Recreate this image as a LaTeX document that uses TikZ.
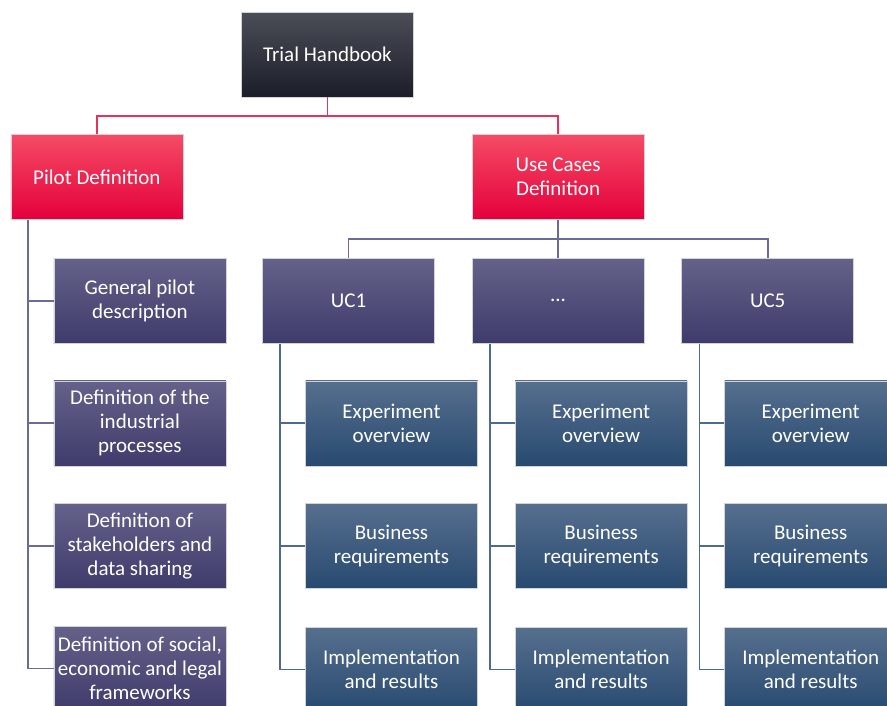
\documentclass[tikz,border=0pt]{standalone}
\usepackage{fontspec}
\setmainfont{Carlito}
\usetikzlibrary{positioning}

\definecolor{headtop}{HTML}{4B4D57}
\definecolor{headbot}{HTML}{1B1E29}
\definecolor{redtop}{HTML}{F54B65}
\definecolor{redbot}{HTML}{E4003B}
\definecolor{purtop}{HTML}{64628A}
\definecolor{purbot}{HTML}{3F3B6B}
\definecolor{blutop}{HTML}{566F8E}
\definecolor{blubot}{HTML}{284A70}
\definecolor{boxedge}{HTML}{D2D2DA}
\definecolor{redwire}{HTML}{E8325A}
\definecolor{purwire}{HTML}{6B6B99}
\definecolor{bluwire}{HTML}{4D6B91}

\tikzset{
  box/.style={rectangle, minimum width=172pt, minimum height=85pt, inner sep=2pt,
    align=center, text=white, draw=boxedge, line width=0.6pt,
    font=\fontsize{21}{24}\selectfont},
  headbox/.style={box, top color=headtop, bottom color=headbot},
  redbox/.style={box, top color=redtop, bottom color=redbot},
  purbox/.style={box, top color=purtop, bottom color=purbot},
  blubox/.style={box, top color=blutop, bottom color=blubot},
  redline/.style={draw=redwire, line width=1.8pt},
  purline/.style={draw=purwire, line width=1.8pt},
  bluline/.style={draw=bluwire, line width=1.8pt}
}

\begin{document}
\begin{tikzpicture}[x=1pt,y=-1pt,node distance=37pt]
    \clip (0,0) rectangle (887,705);

    \node[headbox] (hb) at (327.5,54.5) {Trial Handbook};
    \node[redbox] [below left=37pt and 58pt of hb] (pilot) {Pilot Definition};
    \node[redbox] [below right=37pt and 58pt of hb] (ucdef) {Use Cases\\Definition};

    % pilot column
    \node[purbox, anchor=north west] (gen) at ([xshift=43pt,yshift=-38pt]pilot.south west) {General pilot\\description};
    \node[purbox] [below=of gen] (proc) {Definition of the\\industrial\\processes};
    \node[purbox] [below=of proc] (stake) {Definition of\\stakeholders and\\data sharing};
    \node[purbox] [below=of stake] (frame) {Definition of social,\\economic and legal\\frameworks};

    % use cases
    \node[purbox] [below=38pt of ucdef] (dots) {...};
    \node[purbox] [left=of dots] (uc1) {UC1};
    \node[purbox] [right=of dots] (uc5) {UC5};

    \node[blubox, anchor=north west] (exp1) at ([xshift=43pt,yshift=-37pt]uc1.south west) {Experiment\\overview};
    \node[blubox] [below=of exp1] (req1) {Business\\requirements};
    \node[blubox] [below=38pt of req1] (imp1) {Implementation\\and results};

    \node[blubox, anchor=north west] (exp2) at ([xshift=43pt,yshift=-37pt]dots.south west) {Experiment\\overview};
    \node[blubox] [below=of exp2] (req2) {Business\\requirements};
    \node[blubox] [below=38pt of req2] (imp2) {Implementation\\and results};

    \node[blubox, anchor=north west] (exp3) at ([xshift=43pt,yshift=-37pt]uc5.south west) {Experiment\\overview};
    \node[blubox] [below=of exp3] (req3) {Business\\requirements};
    \node[blubox] [below=38pt of req3] (imp3) {Implementation\\and results};

    \path[redline]
    (hb.south) -- ++(0,18.5) -| (pilot.north)
    (hb.south) -- ++(0,18.5) -| (ucdef.north)
    ;
    \path[purline]
    ([xshift=17pt]pilot.south west) |- (gen.west)
    ([xshift=17pt]pilot.south west) |- (proc.west)
    ([xshift=17pt]pilot.south west) |- (stake.west)
    ([xshift=17pt]pilot.south west) |- (frame.west)
    (ucdef.south) -- ++(0,19) -| (uc1.north)
    (ucdef.south) -- ++(0,19) -| (uc5.north)
    (ucdef.south) -- (dots.north)
    ;
    \path[bluline]
    ([xshift=18pt]uc1.south west) |- (exp1.west)
    ([xshift=18pt]uc1.south west) |- (req1.west)
    ([xshift=18pt]uc1.south west) |- (imp1.west)
    ([xshift=18pt]dots.south west) |- (exp2.west)
    ([xshift=18pt]dots.south west) |- (req2.west)
    ([xshift=18pt]dots.south west) |- (imp2.west)
    ([xshift=18pt]uc5.south west) |- (exp3.west)
    ([xshift=18pt]uc5.south west) |- (req3.west)
    ([xshift=18pt]uc5.south west) |- (imp3.west)
    ;
  \end{tikzpicture}
\end{document}
